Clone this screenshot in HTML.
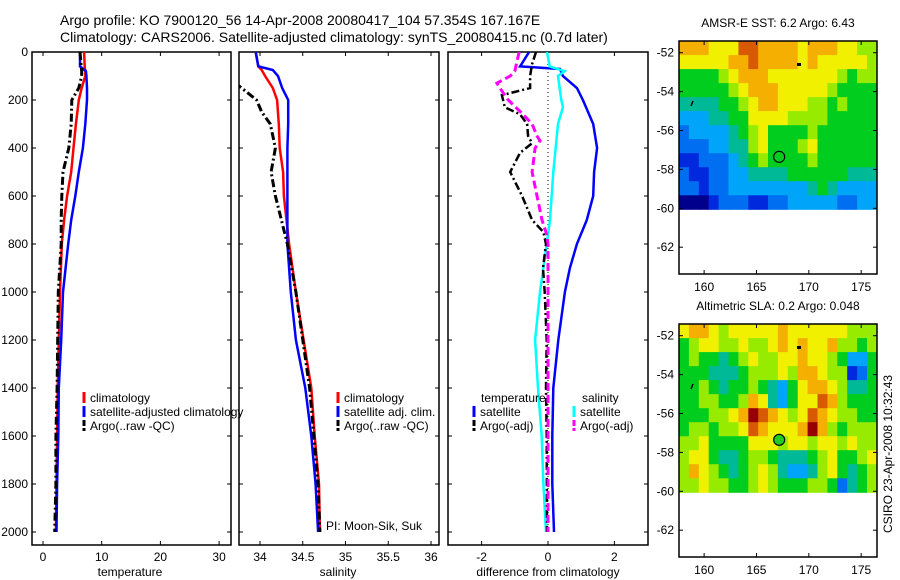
<!DOCTYPE html>
<html><head><meta charset="utf-8"><style>
html,body{margin:0;padding:0;background:#fff;}
svg{display:block;font-family:"Liberation Sans",sans-serif;}
</style></head><body>
<svg id="fig" width="900" height="580" viewBox="0 0 900 580" xmlns="http://www.w3.org/2000/svg">
<defs>
<clipPath id="c1"><rect x="32" y="52" width="199" height="493"/></clipPath>
<clipPath id="c2"><rect x="239" y="52" width="200" height="493"/></clipPath>
<clipPath id="c3"><rect x="448" y="52" width="200" height="493"/></clipPath>
</defs>
<text x="60" y="25" font-size="14">Argo profile: KO 7900120_56 14-Apr-2008 20080417_104 57.354S 167.167E</text>
<text x="60" y="42" font-size="14">Climatology: CARS2006. Satellite-adjusted climatology: synTS_20080415.nc (0.7d later)</text>
<g id="root"></g>
</svg>
<script>
// ---- profile data ----
const tDepth = [0,60,80,100,150,200,300,400,500,600,700,800,1000,1200,1400,1600,1800,2000];
const tClim  = [7.0,7.1,7.2,7.2,6.6,6.1,5.6,5.2,4.8,4.1,3.6,3.2,2.9,2.7,2.5,2.4,2.3,2.2];
const tSat   = [6.3,6.3,7.3,7.4,7.5,7.5,7.2,6.8,6.1,5.5,4.8,4.3,3.4,3.1,2.7,2.6,2.4,2.3];
const tArgo  = [6.3,6.5,6.6,6.6,6.1,4.9,4.8,4.4,3.4,3.2,3.1,3.1,2.6,2.5,2.4,2.2,2.2,2.0];

const sDepth = [0,60,75,100,150,200,300,400,500,600,800,1000,1200,1400,1600,1800,2000];
const sClim  = [33.95,33.98,34.02,34.06,34.15,34.2,34.22,34.23,34.27,34.28,34.34,34.42,34.51,34.6,34.64,34.69,34.70];
const sSat   = [33.95,33.98,34.15,34.21,34.26,34.33,34.33,34.32,34.32,34.32,34.32,34.36,34.42,34.53,34.6,34.65,34.68];
const sArgoDepth = [130,140,200,250,300,400,500,600,700,800,1000,1200,1400,1600,1800,2000];
const sArgo  = [33.70,33.75,33.96,34.02,34.12,34.18,34.13,34.18,34.25,34.32,34.42,34.5,34.58,34.63,34.68,34.70];

const dDepth = [0,60,71,100,150,200,300,400,500,600,700,800,900,1000,1100,1200,1400,1600,1800,2000];
const dTSat  = [-0.57,-0.84,0.36,0.45,0.87,1.05,1.36,1.48,1.39,1.36,1.17,0.87,0.66,0.51,0.41,0.31,0.16,0.13,0.13,0.18];
const dSDepth = [0,60,80,100,200,230,300,500,700,800,1000,1200,1400,1600,1800,2000];
const dSSat  = [-0.03,0.05,0.5,0.3,0.4,0.45,0.3,0.16,0.06,-0.04,-0.24,-0.39,-0.3,-0.19,-0.14,-0.06];
const dTArgoDepth = [0,50,100,150,180,230,260,300,350,380,420,500,600,700,750,800,900,1000,1100,1200,1400,1600,2000];
const dTArgo = [-0.36,-0.48,-0.54,-0.54,-1.39,-1.3,-0.84,-0.63,-0.6,-0.48,-0.84,-1.14,-0.78,-0.48,-0.14,-0.06,-0.15,-0.1,-0.07,-0.04,-0.06,-0.04,-0.03];
const dSArgoDepth = [0,80,100,130,160,200,260,300,350,370,400,500,600,700,760,800,1000,2000];
const dSArgo = [-0.87,-1.0,-1.14,-1.54,-1.4,-1.2,-0.75,-0.48,-0.33,-0.24,-0.39,-0.48,-0.33,-0.18,-0.04,0,0,0];

const depthTicks = [0,200,400,600,800,1000,1200,1400,1600,1800,2000];
const tTicks = [0,10,20,30];
const sTicks = [34,34.5,35,35.5,36];
const sTickLabels = ["34","34.5","35","35.5","36"];
const dTicks = [-2,0,2];

// ---- map data (value index into colour ramp, rows north->south) ----
const sstGrid = [
[8,8,8,7,7,7,9,9,8,8,8,8,7,8,8,8,7,7,6,6],
[7,7,7,7,7,8,8,9,8,8,8,8,7,8,7,7,7,7,7,6],
[5,5,5,5,6,7,8,8,8,7,7,7,7,7,7,7,6,5,6,6],
[5,5,5,5,5,6,7,8,8,8,7,7,7,7,7,6,5,5,5,5],
[4,4,4,4,5,5,6,7,8,8,7,7,7,6,6,5,6,5,5,5],
[3,3,3,4,4,5,5,7,7,7,7,6,6,6,6,5,5,5,5,5],
[2,3,3,3,3,4,5,6,7,5,5,5,5,6,5,5,5,5,5,5],
[2,2,2,3,3,4,4,6,7,5,5,5,6,7,5,5,5,5,5,5],
[1,1,2,2,2,3,4,5,6,5,5,5,5,6,5,5,5,5,5,5],
[2,1,1,2,2,3,3,4,4,4,4,5,5,5,5,5,5,4,4,4],
[2,2,1,2,2,3,3,3,3,3,3,3,3,4,5,4,3,3,3,3],
[0,0,0,1,2,2,2,1,1,2,2,3,3,3,3,3,2,2,3,3]];
const slaGrid = [
[7,8,8,7,6,7,7,7,7,7,8,7,7,7,7,7,7,6,6,6],
[5,6,7,7,6,6,7,6,6,7,8,7,8,7,7,8,6,6,5,6],
[5,6,5,5,4,5,6,7,6,6,7,7,8,7,7,6,5,3,3,5],
[5,5,5,4,4,4,5,6,6,6,7,6,8,8,7,6,6,1,2,5],
[5,5,6,5,4,5,5,6,5,4,3,5,7,8,8,7,6,4,4,5],
[5,5,6,6,5,5,6,8,7,4,3,5,7,7,9,8,6,5,5,5],
[5,5,5,6,6,7,8,10,9,8,7,6,7,9,8,7,6,6,5,5],
[5,6,6,5,6,6,7,9,8,7,7,7,8,10,8,6,5,6,6,6],
[6,6,7,5,5,5,5,7,7,7,6,7,7,6,7,7,6,7,6,6],
[6,7,7,5,4,4,5,6,6,5,4,4,4,5,6,7,5,5,6,7],
[6,8,7,6,5,4,5,6,7,6,4,3,3,4,6,7,5,4,5,6],
[6,6,7,6,6,5,5,6,7,6,5,5,5,6,6,5,2,4,5,6]];
const lonTicks = [160,165,170,175];
const latTicks = [-52,-54,-56,-58,-60,-62];
const floatLon = 167.167, floatLat = -57.354;

const NS='http://www.w3.org/2000/svg';
const root=document.getElementById('root');
function mk(tag,attrs,parent){const e=document.createElementNS(NS,tag);for(const k in attrs)e.setAttribute(k,attrs[k]);(parent||root).appendChild(e);return e;}
function txt(x,y,s,size,anchor,parent){const e=mk('text',{x:x,y:y,'font-size':size,'text-anchor':anchor||'start'},parent);e.textContent=s;return e;}

const yD = d => 52 + d*0.24;
const xT = v => 43 + v*5.87;
const xS = v => 260 + (v-34)*85.5;
const xDf = v => 548 + v*33.2;

function panel(x0,w,name){
  const g=mk('g',{});
  
  
  const r=mk('rect',{x:x0,y:52,width:w,height:493,fill:'none',stroke:'#000','stroke-width':1.5},g);
  
  
  depthTicks.forEach(d=>{
    mk('line',{x1:x0,x2:x0+4,y1:yD(d),y2:yD(d),stroke:'#000'},g);
    mk('line',{x1:x0+w,x2:x0+w-4,y1:yD(d),y2:yD(d),stroke:'#000'},g);
  });
  return g;
}
function xticks(g,ticks,labels,sc){
  ticks.forEach((t,i)=>{
    const x=sc(t);
    mk('line',{x1:x,x2:x,y1:52,y2:56,stroke:'#000'},g);
    mk('line',{x1:x,x2:x,y1:545,y2:541,stroke:'#000'},g);
    const l=txt(x,561,labels[i],12,'middle',g);
    
    
  });
}
function line(g,xs,ds,sc,color,w,dash,clip,name){
  const pts=xs.map((v,i)=>sc(v).toFixed(1)+','+yD(ds[i]).toFixed(1)).join(' ');
  const a={points:pts,fill:'none',stroke:color,'stroke-width':w,'clip-path':'url(#'+clip+')'};
  if(dash)a['stroke-dasharray']=dash;
  const p=mk('polyline',a,g);
  
  
}
function legend(g,x,y,color,label,dash){
  const m=mk('line',{x1:x,x2:x,y1:y-10,y2:y+1,stroke:color,'stroke-width':3},g);
  if(dash)m.setAttribute('stroke-dasharray','6,2');
  
  
  const t=txt(x+6,y,label,12,'start',g);
  
  
}

// y tick labels
depthTicks.forEach(d=>{
  const t=txt(28,yD(d)+4,String(d),12,'end');
  
  
});

// Panel 1: temperature
const p1=panel(32,199,'temperature-panel');
xticks(p1,tTicks,tTicks.map(String),xT);
line(p1,tClim,tDepth,xT,'#f00',2.5,null,'c1','climatology-temperature-line');
line(p1,tSat,tDepth,xT,'#00f',2.5,null,'c1','satellite-temperature-line');
line(p1,tArgo,tDepth,xT,'#000',3,'8,3,2,3','c1','argo-temperature-line');
let lab=txt(130,576,'temperature',12,'middle',p1);


legend(p1,84,402,'#f00','climatology');
legend(p1,84,416,'#00f','satellite-adjusted climatology');
legend(p1,84,430,'#000','Argo(..raw -QC)',true);

// Panel 2: salinity
const p2=panel(239,200,'salinity-panel');
xticks(p2,sTicks,sTickLabels,xS);
line(p2,sClim,sDepth,xS,'#f00',2.5,null,'c2','climatology-salinity-line');
line(p2,sSat,sDepth,xS,'#00f',2.5,null,'c2','satellite-salinity-line');
line(p2,sArgo,sArgoDepth,xS,'#000',3,'8,3,2,3','c2','argo-salinity-line');
lab=txt(338,576,'salinity',12,'middle',p2);


legend(p2,338,402,'#f00','climatology');
legend(p2,338,416,'#00f','satellite adj. clim.');
legend(p2,338,430,'#000','Argo(..raw -QC)',true);
lab=txt(326,530,'PI: Moon-Sik, Suk',12,'start',p2);



// Panel 3: differences
const p3=panel(448,200,'difference-panel');
xticks(p3,dTicks,dTicks.map(String),xDf);
const z=mk('line',{x1:xDf(0),x2:xDf(0),y1:52,y2:532,stroke:'#000','stroke-dasharray':'1,3'},p3);


line(p3,dTSat,dDepth,xDf,'#00f',2.5,null,'c3','temperature-satellite-diff-line');
line(p3,dSSat,dSDepth,xDf,'#0ff',2.5,null,'c3','salinity-satellite-diff-line');
line(p3,dTArgo,dTArgoDepth,xDf,'#000',2.5,'8,3,2,3','c3','temperature-argo-diff-line');
line(p3,dSArgo,dSArgoDepth,xDf,'#f0f',3,'8,4','c3','salinity-argo-diff-line');
lab=txt(548,576,'difference from climatology',12,'middle',p3);


lab=txt(481,402,'temperature',12,'start',p3);


lab=txt(582,402,'salinity',12,'start',p3);


legend(p3,474,416,'#00f','satellite');
legend(p3,474,430,'#000','Argo(-adj)',true);
legend(p3,574,416,'#0ff','satellite');
legend(p3,574,430,'#f0f','Argo(-adj)',true);

// ---- maps ----
const ramp=[[0,0,140],[0,40,220],[0,110,240],[0,165,250],[0,185,150],[0,205,30],[150,235,0],[240,240,0],[245,175,0],[215,90,0],[150,0,0]];
const xL = v => 679 + (v-157.6)*10.47;
function map(top,grid,title,name,filledMarker){
  const g=mk('g',{});
  
  
  const yL = v => top+11.7 + (-52 - v)*19.45;
  const lon0=157.6, lon1=176.5, lat0=-51.4, lat1=-60.05;
  const nr=grid.length, nc=grid[0].length;
  const cw=(lon1-lon0)/nc, ch=(lat0-lat1)/nr;
  grid.forEach((row,r)=>row.forEach((v,c)=>{
    const x=xL(lon0+c*cw), y=yL(lat0-r*ch);
    const col=ramp[v];
    const cell=mk('rect',{x:x.toFixed(1),y:y.toFixed(1),width:(xL(lon0+(c+1)*cw)-x+0.5).toFixed(1),height:(yL(lat0-(r+1)*ch)-y+0.5).toFixed(1),fill:'rgb('+col.join(',')+')'},g);
    
    
  }));
  const fr=mk('rect',{x:679,y:top,width:198,height:233,fill:'none',stroke:'#000','stroke-width':1.5},g);
  
  
  lonTicks.forEach(l=>{
    const x=xL(l);
    mk('line',{x1:x,x2:x,y1:top,y2:top+4,stroke:'#000'},g);
    mk('line',{x1:x,x2:x,y1:top+233,y2:top+229,stroke:'#000'},g);
    const t=txt(x,top+250,String(l),12,'middle',g);
    
    
  });
  latTicks.forEach(l=>{
    const y=yL(l);
    mk('line',{x1:679,x2:683,y1:y,y2:y,stroke:'#000'},g);
    mk('line',{x1:877,x2:873,y1:y,y2:y,stroke:'#000'},g);
    const t=txt(674,y+4,String(l),12,'end',g);
    
    
  });
  const tt=txt(778,top-14,title,12,'middle',g);
  
  
  const m=mk('circle',{cx:xL(floatLon),cy:yL(floatLat),r:5.5,fill:filledMarker?'#2c2':'none',stroke:'#000','stroke-width':1.2},g);
  
  
  mk('rect',{x:797,y:top+22,width:4,height:3,fill:'#000'},g);
  mk('line',{x1:691,x2:693,y1:top+65,y2:top+60,stroke:'#000','stroke-width':1.5},g);
}
map(41,sstGrid,'AMSR-E SST: 6.2 Argo: 6.43','sst-map',false);
map(324,slaGrid,'Altimetric SLA: 0.2 Argo: 0.048','sla-map',true);

const cs=txt(0,0,'CSIRO 23-Apr-2008 10:32:43',12,'middle');
cs.setAttribute('transform','translate(892,454) rotate(-90)');


</script>
</body></html>
